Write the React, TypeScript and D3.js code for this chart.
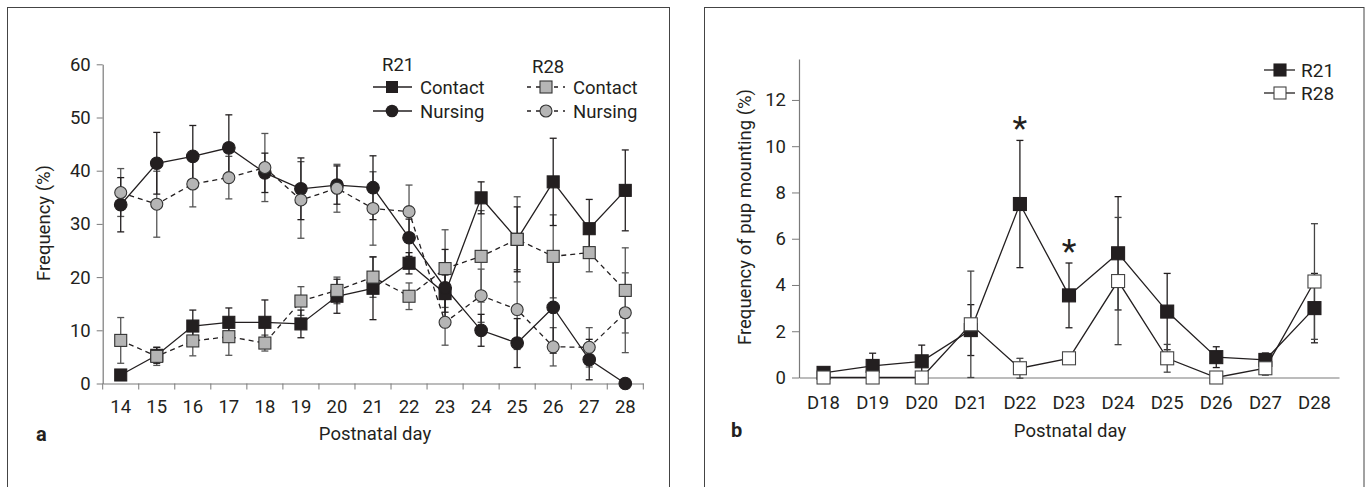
import React, { useEffect, useRef } from 'react';
import * as d3 from 'd3';

// panel a: postnatal days 14..28
const daysA = ['14', '15', '16', '17', '18', '19', '20', '21', '22', '23', '24', '25', '26', '27', '28'];
const r21Contact = [1.6, 5.3, 10.8, 11.5, 11.5, 11.2, 16.4, 17.9, 22.6, 16.9, 34.9, 27.1, 37.9, 29.1, 36.3];
const r21ContactErr = [0, 1.5, 3.0, 2.7, 4.2, 2.6, 3.2, 5.9, 2.0, 3.5, 3.0, 6.1, 8.2, 5.5, 7.6];
const r21Nursing = [33.6, 41.4, 42.7, 44.3, 39.6, 36.6, 37.3, 36.8, 27.4, 18.0, 10.0, 7.6, 14.3, 4.5, 0];
const r21NursingErr = [5.1, 5.8, 5.8, 6.2, 3.7, 5.8, 3.6, 6.0, 3.5, 7.2, 3.0, 4.6, 8.6, 3.8, 0];
const r28Contact = [8.1, 5.1, 8.0, 8.8, 7.6, 15.5, 17.5, 20.0, 16.4, 21.6, 23.9, 27.1, 23.9, 24.6, 17.5];
const r28ContactErr = [4.3, 1.7, 2.8, 3.5, 1.5, 2.7, 2.5, 3.8, 2.5, 7.3, 8.6, 8.0, 7.8, 3.6, 8.0];
const r28Nursing = [35.9, 33.7, 37.5, 38.7, 40.6, 34.5, 36.7, 32.9, 32.3, 11.5, 16.5, 13.9, 6.9, 6.8, 13.3];
const r28NursingErr = [4.5, 6.2, 4.3, 4.0, 6.4, 7.2, 4.5, 6.9, 5.0, 4.3, 5.0, 7.5, 3.6, 3.7, 7.5];
const ticksA = [0, 10, 20, 30, 40, 50, 60];

// panel b: pup mounting
const daysB = ['D18', 'D19', 'D20', 'D21', 'D22', 'D23', 'D24', 'D25', 'D26', 'D27', 'D28'];
const r21Mount = [0.2, 0.5, 0.7, 2.05, 7.5, 3.55, 5.37, 2.85, 0.88, 0.76, 3.0];
const r21MountErr = [0.1, 0.55, 0.7, 1.1, 2.75, 1.4, 2.45, 1.65, 0.45, 0.3, 1.5];
const r28Mount = [0, 0, 0, 2.3, 0.4, 0.83, 4.17, 0.83, 0, 0.4, 4.15];
const r28MountErr = [0, 0, 0, 2.3, 0.43, 0, 2.75, 0.6, 0, 0.3, 2.5];
const starDays = ['D22', 'D23'];
const ticksB = [0, 2, 4, 6, 8, 10, 12];

const FONT = "Roboto, 'Open Sans', sans-serif";
const FS = 18.5;
const INK = '#231f20';
const AXIS = '#7a7a7a';
const GREY = '#b5b5b5';

const App = () => {
  const svgRef = useRef<SVGSVGElement>(null);

  useEffect(() => {
    const svg = d3.select(svgRef.current);
    svg.selectAll('*').remove();
    svg.attr('font-family', FONT);

    // panel frames
    svg.append('rect').attr('x', 7.5).attr('y', 7.5).attr('width', 662).attr('height', 500)
      .attr('fill', 'none').attr('stroke', '#444');
    svg.append('rect').attr('x', 704.5).attr('y', 7.5).attr('width', 659.5).attr('height', 500)
      .attr('fill', 'none').attr('stroke', '#444');

    const errBars = (g, x, y, vals, errs, color) => {
      const cw = 3.5;
      vals.forEach((v, i) => {
        const e = errs[i];
        if (!e) return;
        const cx = x(i);
        const y1 = y(v - e), y2 = y(v + e);
        g.append('line').attr('x1', cx).attr('x2', cx).attr('y1', y1).attr('y2', y2).attr('stroke', color).attr('stroke-width', 1.3);
        [y1, y2].forEach(yy => g.append('line').attr('x1', cx - cw).attr('x2', cx + cw).attr('y1', yy).attr('y2', yy)
          .attr('stroke', color).attr('stroke-width', 1.3));
      });
    };

    const squares = (g, x, y, vals, size, fill, stroke) => {
      g.selectAll(null).data(vals).join('rect')
        .attr('x', (d, i) => x(i) - size / 2).attr('y', d => y(d) - size / 2)
        .attr('width', size).attr('height', size)
        .attr('fill', fill).attr('stroke', stroke).attr('stroke-width', 1.1);
    };
    const circles = (g, x, y, vals, r, fill, stroke) => {
      g.selectAll(null).data(vals).join('circle')
        .attr('cx', (d, i) => x(i)).attr('cy', d => y(d)).attr('r', r)
        .attr('fill', fill).attr('stroke', stroke).attr('stroke-width', 1.1);
    };

    // ---------- panel a ----------
    const xA = d3.scaleBand().domain(daysA).range([102.7, 643.3]);
    const yA = d3.scaleLinear().domain([0, 60]).range([383.5, 64.3]);
    const cxA = i => xA(daysA[i]) + xA.bandwidth() / 2;
    const gA = svg.append('g');

    const ya = gA.append('g').attr('transform', 'translate(102.7,0)')
      .call(d3.axisLeft(yA).tickValues(ticksA).tickSize(6).tickSizeOuter(0).tickPadding(6));
    const xa = gA.append('g').attr('transform', 'translate(0,383.5)')
      .call(d3.axisBottom(xA).tickSize(0).tickPadding(16));
    xa.selectAll('.bound').data(d3.range(daysA.length + 1)).join('line')
      .attr('x1', i => xA.range()[0] + i * xA.step()).attr('x2', i => xA.range()[0] + i * xA.step())
      .attr('y1', 0).attr('y2', 6).attr('stroke', AXIS);
    [ya, xa].forEach(a => {
      a.select('.domain').attr('stroke', AXIS).attr('stroke-width', 1.2);
      a.selectAll('.tick line').attr('stroke', AXIS);
      a.selectAll('.tick text').attr('font-size', FS).attr('fill', INK).attr('font-family', FONT);
    });

    const lineA = d3.line().x((d, i) => cxA(i)).y(d => yA(d));
    const plotA = gA.append('g');
    plotA.append('path').attr('d', lineA(r28Contact)).attr('fill', 'none').attr('stroke', INK).attr('stroke-width', 1.3).attr('stroke-dasharray', '5,4');
    plotA.append('path').attr('d', lineA(r28Nursing)).attr('fill', 'none').attr('stroke', INK).attr('stroke-width', 1.3).attr('stroke-dasharray', '5,4');
    plotA.append('path').attr('d', lineA(r21Contact)).attr('fill', 'none').attr('stroke', INK).attr('stroke-width', 1.3);
    plotA.append('path').attr('d', lineA(r21Nursing)).attr('fill', 'none').attr('stroke', INK).attr('stroke-width', 1.3);
    errBars(plotA, cxA, yA, r28Contact, r28ContactErr, '#555');
    errBars(plotA, cxA, yA, r28Nursing, r28NursingErr, '#555');
    errBars(plotA, cxA, yA, r21Contact, r21ContactErr, INK);
    errBars(plotA, cxA, yA, r21Nursing, r21NursingErr, INK);
    squares(plotA, cxA, yA, r21Contact, 12, INK, INK);
    circles(plotA, cxA, yA, r21Nursing, 6.3, INK, INK);
    squares(plotA, cxA, yA, r28Contact, 12, GREY, '#333');
    circles(plotA, cxA, yA, r28Nursing, 6, GREY, '#333');

    gA.append('text').attr('transform', 'translate(50,223) rotate(-90)').attr('text-anchor', 'middle')
      .attr('font-size', FS).attr('fill', INK).text('Frequency (%)');
    gA.append('text').attr('x', 375).attr('y', 440).attr('text-anchor', 'middle')
      .attr('font-size', FS).attr('fill', INK).text('Postnatal day');
    gA.append('text').attr('x', 36).attr('y', 441).attr('font-size', 20).attr('font-weight', 'bold')
      .attr('fill', INK).text('a');

    // legend a
    const lg = gA.append('g').attr('font-size', FS).attr('fill', INK);
    lg.append('text').attr('x', 382).attr('y', 71).text('R21');
    lg.append('text').attr('x', 532).attr('y', 73).text('R28');
    const rows = [
      { y: 87, label: 'Contact', shape: 'sq' },
      { y: 111, label: 'Nursing', shape: 'ci' },
    ];
    rows.forEach(r => {
      // R21 solid
      lg.append('line').attr('x1', 373).attr('x2', 412).attr('y1', r.y).attr('y2', r.y).attr('stroke', INK).attr('stroke-width', 1.3);
      if (r.shape === 'sq') lg.append('rect').attr('x', 386).attr('y', r.y - 6).attr('width', 12).attr('height', 12).attr('fill', INK);
      else lg.append('circle').attr('cx', 392).attr('cy', r.y).attr('r', 6.3).attr('fill', INK);
      lg.append('text').attr('x', 420).attr('y', r.y + 6.5).text(r.label);
      // R28 dashed
      lg.append('line').attr('x1', 527).attr('x2', 565).attr('y1', r.y).attr('y2', r.y).attr('stroke', INK)
        .attr('stroke-width', 1.3).attr('stroke-dasharray', '4,5');
      if (r.shape === 'sq') lg.append('rect').attr('x', 540).attr('y', r.y - 6).attr('width', 12).attr('height', 12)
        .attr('fill', GREY).attr('stroke', '#333').attr('stroke-width', 1.1);
      else lg.append('circle').attr('cx', 546).attr('cy', r.y).attr('r', 6).attr('fill', GREY).attr('stroke', '#333').attr('stroke-width', 1.1);
      lg.append('text').attr('x', 573).attr('y', r.y + 6.5).text(r.label);
    });

    // ---------- panel b ----------
    const xB = d3.scaleBand().domain(daysB).range([799, 1339]);
    const yB = d3.scaleLinear().domain([0, 13.77]).range([377.5, 59]);
    const cxB = i => xB(daysB[i]) + xB.bandwidth() / 2;
    const gB = svg.append('g');

    const yb = gB.append('g').attr('transform', 'translate(799,0)')
      .call(d3.axisLeft(yB).tickValues(ticksB).tickSize(7).tickSizeOuter(0).tickPadding(6));
    const xb = gB.append('g').attr('transform', 'translate(0,377.5)')
      .call(d3.axisBottom(xB).tickSize(0).tickPadding(18));
    [yb, xb].forEach(a => {
      a.select('.domain').attr('stroke', AXIS).attr('stroke-width', 1.2);
      a.selectAll('.tick line').attr('stroke', AXIS);
      a.selectAll('.tick text').attr('font-size', FS).attr('fill', INK).attr('font-family', FONT);
    });

    const lineB = d3.line().x((d, i) => cxB(i)).y(d => yB(d));
    const plotB = gB.append('g');
    plotB.append('path').attr('d', lineB(r28Mount)).attr('fill', 'none').attr('stroke', INK).attr('stroke-width', 1.3);
    plotB.append('path').attr('d', lineB(r21Mount)).attr('fill', 'none').attr('stroke', INK).attr('stroke-width', 1.3);
    errBars(plotB, cxB, yB, r21Mount, r21MountErr, INK);
    errBars(plotB, cxB, yB, r28Mount, r28MountErr, '#444');
    squares(plotB, cxB, yB, r21Mount, 13, INK, INK);
    squares(plotB, cxB, yB, r28Mount, 13, '#fff', '#444');

    // significance asterisks above the R21 error bars
    starDays.forEach(d => {
      const i = daysB.indexOf(d);
      const top = yB(r21Mount[i] + r21MountErr[i]);
      gB.append('text').attr('x', cxB(i)).attr('y', top - 18.5 + 18).attr('text-anchor', 'middle')
        .attr('font-size', 34).attr('fill', INK).text('*');
    });

    gB.append('text').attr('transform', 'translate(751,217) rotate(-90)').attr('text-anchor', 'middle')
      .attr('font-size', FS).attr('fill', INK).text('Frequency of pup mounting (%)');
    gB.append('text').attr('x', 1070).attr('y', 437).attr('text-anchor', 'middle')
      .attr('font-size', FS).attr('fill', INK).text('Postnatal day');
    gB.append('text').attr('x', 731).attr('y', 437).attr('font-size', 20).attr('font-weight', 'bold')
      .attr('fill', INK).text('b');

    // legend b
    const lb = gB.append('g').attr('font-size', 19).attr('fill', INK);
    [{ y: 70, label: 'R21', fill: INK, stroke: INK }, { y: 93, label: 'R28', fill: '#fff', stroke: '#444' }].forEach(r => {
      lb.append('line').attr('x1', 1264).attr('x2', 1295).attr('y1', r.y).attr('y2', r.y).attr('stroke', INK).attr('stroke-width', 1.3);
      lb.append('rect').attr('x', 1274).attr('y', r.y - 6).attr('width', 12).attr('height', 12)
        .attr('fill', r.fill).attr('stroke', r.stroke).attr('stroke-width', 1.1);
      lb.append('text').attr('x', 1301).attr('y', r.y + 6.5).text(r.label);
    });
  }, []);

  return (
    <svg ref={svgRef} width={1367} height={487} style={{ position: 'absolute', left: 0, top: 0, background: '#fff' }} />
  );
};

export default App;
